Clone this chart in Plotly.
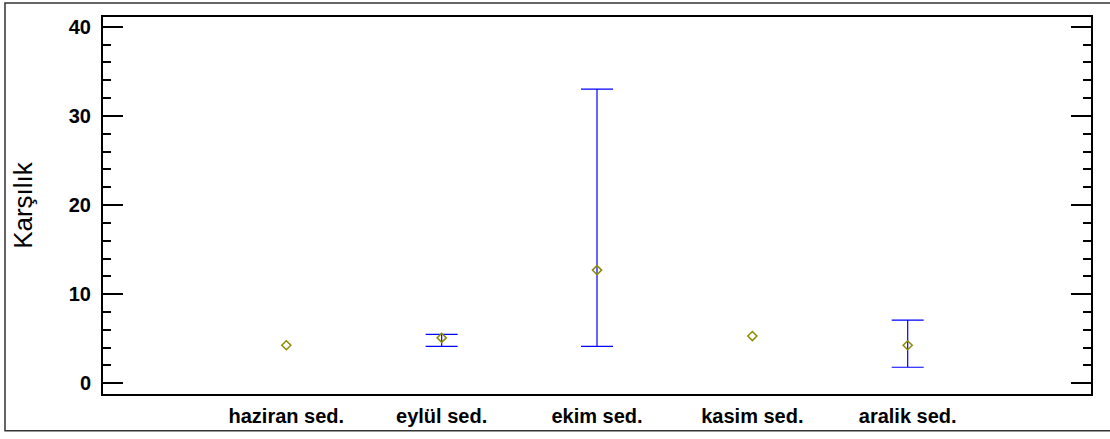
import plotly.graph_objects as go

categories = ["haziran sed.", "eylül sed.", "ekim sed.", "kasim sed.", "aralik sed."]
means = [4.27, 5.1, 12.7, 5.3, 4.27]
upper = [None, 5.5, 33.0, None, 7.1]
lower = [None, 4.15, 4.15, None, 1.8]
ytick_vals = [0, 10, 20, 30, 40]

x_idx = list(range(len(categories)))
eb = [i for i in x_idx if upper[i] is not None]

fig = go.Figure()
# error bars (only where bounds exist)
fig.add_trace(go.Scatter(
    x=eb, y=[means[i] for i in eb], mode="markers",
    marker=dict(size=1, opacity=0),
    error_y=dict(type="data", symmetric=False,
                 array=[upper[i] - means[i] for i in eb],
                 arrayminus=[means[i] - lower[i] for i in eb],
                 color="#0000ff", thickness=1.2, width=16),
    showlegend=False, hoverinfo="skip",
))
# means
fig.add_trace(go.Scatter(
    x=x_idx, y=means, mode="markers",
    marker=dict(symbol="diamond-open", size=7, color="#8c8c00", line=dict(width=1.5)),
    showlegend=False,
))

fig.update_layout(
    width=1110, height=439,
    margin=dict(l=103, r=19, t=17, b=42),
    paper_bgcolor="white", plot_bgcolor="white",
    font=dict(family="Liberation Sans, Arial, sans-serif", color="black"),
    xaxis=dict(
        range=[-1.18, 5.18], tickmode="array", tickvals=x_idx,
        ticktext=["<b>%s</b>" % c for c in categories],
        tickfont=dict(size=20), ticks="", showgrid=False, zeroline=False,
        showline=True, linecolor="black", linewidth=2, mirror=True,
        ticklabelstandoff=3,
    ),
    yaxis=dict(
        range=[-1.2, 41.1], tickmode="array", tickvals=ytick_vals,
        ticktext=["<b>%d</b>" % v for v in ytick_vals],
        tickfont=dict(size=20), ticks="inside", ticklen=20, tickwidth=1.5, tickcolor="black",
        minor=dict(dtick=2, tick0=0, ticks="inside", ticklen=8, tickwidth=1.5, tickcolor="black"),
        showgrid=False, zeroline=False,
        showline=True, linecolor="black", linewidth=2, mirror="allticks",
        title=dict(text="Karşılık", font=dict(size=26), standoff=29),
        ticklabelstandoff=6,
    ),
    shapes=[dict(type="rect", xref="paper", yref="paper",
                 x0=-98/988, x1=1013/988, y0=-37/380, y1=(380+14)/380,
                 line=dict(color="#333333", width=1.5), fillcolor="rgba(0,0,0,0)", layer="above")],
)

fig.write_html("out.html", config={"displayModeBar": False},
               post_script="document.body.style.margin='0';")
